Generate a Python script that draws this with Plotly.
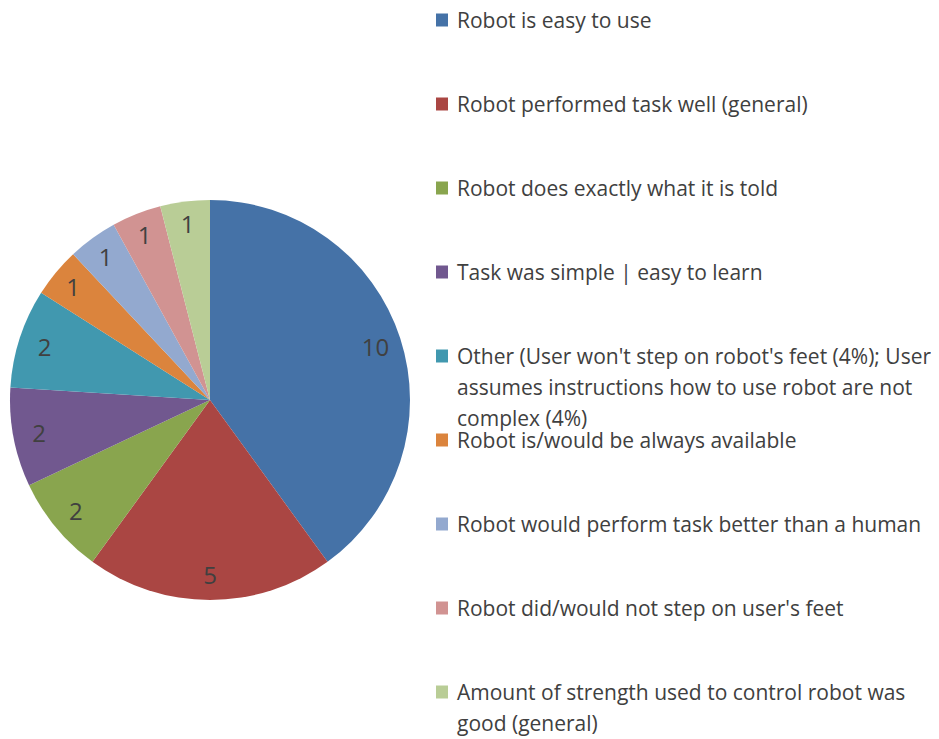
import plotly.graph_objects as go

categories = [
    "Robot is easy to use",
    "Robot performed task well (general)",
    "Robot does exactly what it is told",
    "Task was simple | easy to learn",
    "Other (User won't step on robot's feet (4%); User<br>assumes instructions how to use robot are not<br>complex (4%)",
    "Robot is/would be always available",
    "Robot would perform task better than a human",
    "Robot did/would not step on user's feet",
    "Amount of strength used to control robot was<br>good (general)",
]
counts = [10, 5, 2, 2, 2, 1, 1, 1, 1]
colors = ["#4572A7", "#AA4643", "#89A54E", "#71588F", "#4198AF",
          "#DB843D", "#93A9CF", "#D19392", "#B9CD96"]

# page body has an 8px margin; the figure fills the rest of the window
OFF = 8
W, H = 939 - OFF, 739 - OFF
FONT = "Open Sans"
TXT = "#404040"


def px(x):
    return (x - OFF) / W


def py(y):
    return 1 - (y - OFF) / H


dom = dict(x=[px(10), px(410)], y=[py(600), py(200)])
flat = [c.replace("<br>", " ") for c in categories]

fig = go.Figure()
fig.add_trace(go.Pie(
    labels=flat, values=counts, sort=False, direction="clockwise", rotation=0,
    marker=dict(colors=colors, line=dict(width=0)),
    textinfo="none", domain=dom, showlegend=False, hoverinfo="label+value",
))
# transparent ring carrying the value labels near the rim
fig.add_trace(go.Pie(
    labels=flat, values=counts, sort=False, direction="clockwise", rotation=0,
    hole=0.74,
    marker=dict(colors=["rgba(0,0,0,0)"] * len(counts), line=dict(width=0)),
    textinfo="value", textposition="inside", insidetextorientation="horizontal",
    textfont=dict(family=FONT, size=24, color=TXT),
    domain=dom, showlegend=False, hoverinfo="skip",
))

# custom legend built from the category list
y0, step, lh = 20, 84, 31
annotations = []
shapes = []
for i, (cat, col) in enumerate(zip(categories, colors)):
    yc = y0 + i * step
    shapes.append(dict(type="rect", xref="paper", yref="paper",
                       x0=px(436), x1=px(448),
                       y0=py(yc + 6.5), y1=py(yc - 6.5),
                       fillcolor=col, line=dict(width=0)))
    for j, line in enumerate(cat.split("<br>")):
        annotations.append(dict(
            x=px(455), y=py(yc + j * lh), xref="paper", yref="paper",
            text=line, showarrow=False, xanchor="left", yanchor="middle",
            font=dict(family=FONT, size=21, color=TXT)))

fig.update_layout(
    width=W, height=H,
    margin=dict(l=0, r=0, t=0, b=0),
    paper_bgcolor="white", plot_bgcolor="white",
    annotations=annotations, shapes=shapes,
)
fig.write_html("out.html")
